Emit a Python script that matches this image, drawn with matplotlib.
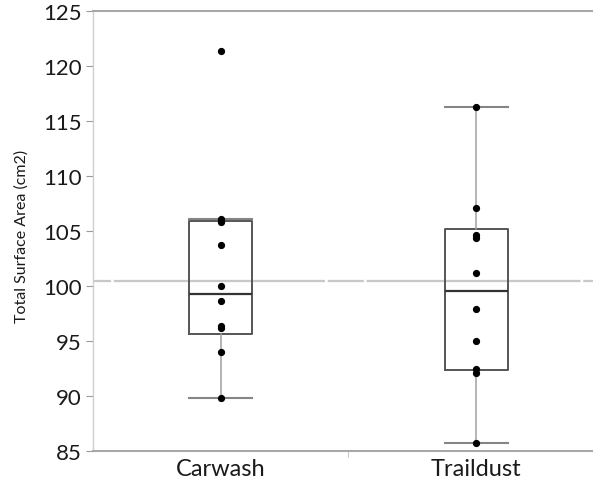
import numpy as np
import matplotlib
matplotlib.use('Agg')
import matplotlib.pyplot as plt


GROUPS = ['Carwash', 'Traildust']
CARWASH = [89.8, 94.0, 96.2, 96.4, 98.6, 100.0, 103.7, 105.8, 106.1, 121.4]
TRAILDUST = [85.75, 92.1, 92.5, 95.0, 97.9, 101.2, 104.4, 104.6, 107.1, 116.3]
Y_TICKS = [85, 90, 95, 100, 105, 110, 115, 120, 125]


def box_stats(values, label):
    # quantiles as (n+1)p, whiskers to the last point inside 1.5 IQR
    v = np.sort(np.asarray(values, dtype=float))
    q1, med, q3 = np.percentile(v, [25, 50, 75], method='weibull')
    iqr = q3 - q1
    inside = v[(v >= q1 - 1.5*iqr) & (v <= q3 + 1.5*iqr)]
    return dict(label=label, q1=q1, med=med, q3=q3,
                whislo=inside.min(), whishi=inside.max(), fliers=[])


def plot():
    plt.rcParams['font.family'] = ['Lato', 'DejaVu Sans']
    plt.rcParams['lines.scale_dashes'] = False
    fig = plt.figure(figsize=(5.93, 4.85), dpi=100)
    ax = fig.add_axes([93/593, 33/485, 511/593, 440/485])

    data = [CARWASH, TRAILDUST]
    stats = [box_stats(d, g) for d, g in zip(data, GROUPS)]
    pos = np.arange(len(GROUPS))

    # grand mean across both groups
    grand_mean = np.mean(np.concatenate(data))
    ax.axhline(grand_mean, color='#c8c8c8', linewidth=1.6,
               dashes=(13, 2, 152, 2, 26, 2, 154, 2, 300, 2), zorder=1)

    ax.bxp(stats, positions=pos, widths=0.245, showfliers=False,
           boxprops=dict(color='#555555', linewidth=1.4),
           medianprops=dict(color='#333333', linewidth=1.6),
           whiskerprops=dict(color='#a0a0a0', linewidth=1.1),
           capprops=dict(color='#858585', linewidth=1.5),
           capwidths=0.245, zorder=2)

    for x, d in zip(pos, data):
        ax.plot(np.full(len(d), x), d, 'o', color='black',
                markersize=4.2, zorder=3, linestyle='none')

    ax.set_xlim(-0.5, 1.5)
    ax.set_ylim(85, 125)
    ax.set_yticks(Y_TICKS)
    ax.tick_params(axis='y', labelsize=16, colors='#9a9a9a',
                   labelcolor='#1a1a1a', length=5, width=0.8, pad=3)
    ax.set_xticks(pos)
    ax.set_xticklabels(GROUPS)
    ax.tick_params(axis='x', labelsize=17, labelcolor='#1a1a1a',
                   length=0, pad=5)
    ax.set_xticks([0.5], minor=True)
    ax.tick_params(axis='x', which='minor', length=4, color='#bbbbbb')

    ax.set_ylabel('Total Surface Area (cm2)', fontsize=11.5, color='#1a1a1a')
    ax.yaxis.set_label_coords(-0.125, 0.49)

    ax.spines['right'].set_visible(False)
    ax.spines['left'].set_color('#cfcfcf')
    ax.spines['left'].set_linewidth(1.0)
    for side in ('top', 'bottom'):
        ax.spines[side].set_color('#a8a8a8')
        ax.spines[side].set_linewidth(1.5)

    fig.savefig('out.png', dpi=100)
    plt.close(fig)


if __name__ == '__main__':
    plot()
